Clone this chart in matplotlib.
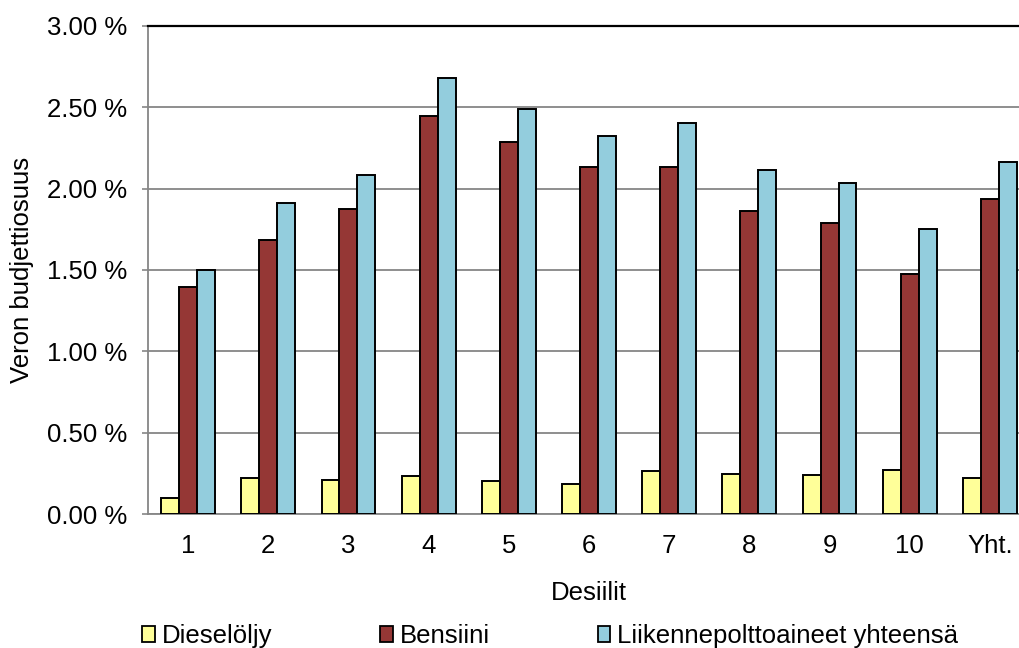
import matplotlib
matplotlib.use("Agg")
import matplotlib.pyplot as plt
from matplotlib.patches import Patch
import numpy as np

plt.rcParams['font.family'] = ['Liberation Sans', 'DejaVu Sans']

categories = ["1", "2", "3", "4", "5", "6", "7", "8", "9", "10", "Yht."]
diesel = [0.10, 0.22, 0.21, 0.235, 0.205, 0.185, 0.265, 0.245, 0.24, 0.27, 0.225]
bensiini = [1.395, 1.685, 1.875, 2.445, 2.285, 2.135, 2.135, 1.865, 1.79, 1.475, 1.935]
yhteensa = [1.50, 1.91, 2.085, 2.68, 2.49, 2.325, 2.405, 2.115, 2.035, 1.75, 2.165]
series_names = ["Dieselöljy", "Bensiini", "Liikennepolttoaineet yhteensä"]
colors = ["#FFFF99", "#953735", "#93CDDD"]
yticks = [0.0, 0.5, 1.0, 1.5, 2.0, 2.5, 3.0]

FS = 18.5

fig = plt.figure(figsize=(10.2, 6.48), dpi=100)
ax = fig.add_axes([148 / 1020, 1 - 514.3 / 648, 882 / 1020, (514.3 - 25.7) / 648])

x = np.arange(len(categories))
w = 0.224
for i, (vals, col) in enumerate(zip([diesel, bensiini, yhteensa], colors)):
    ax.bar(x + (i - 1) * w, vals, width=w, color=col, edgecolor="black",
           linewidth=1.4, zorder=3)

ax.set_xlim(-0.5, len(categories) - 0.5)
ax.set_ylim(0, 3.0)
ax.set_yticks(yticks)
ax.set_yticklabels([f"{v:.2f} %" for v in yticks], fontsize=FS)
ax.set_xticks(x)
ax.set_xticklabels(categories, fontsize=FS)
ax.tick_params(axis="x", length=0, pad=14)
ax.tick_params(axis="y", length=4, width=1.2, color="#868686", pad=11)

ax.grid(axis="y", color="#868686", linewidth=1.3, zorder=0)
ax.set_axisbelow(True)
for side in ["left", "bottom"]:
    ax.spines[side].set_color("#868686")
    ax.spines[side].set_linewidth(1.3)
ax.spines["right"].set_visible(False)
ax.spines["top"].set_color("black")
ax.spines["top"].set_linewidth(1.6)

ax.set_ylabel("Veron budjettiosuus", fontsize=FS, labelpad=9)
ax.set_xlabel("Desiilit", fontsize=FS, labelpad=17)

handles = [Patch(facecolor=c, edgecolor="black", linewidth=1.3) for c in colors]
fig.legend(handles, series_names, loc="center left", bbox_to_anchor=(142 / 1020, 1 - 636 / 648),
           ncol=3, frameon=False, fontsize=FS, handlelength=0.5, handleheight=0.55,
           handletextpad=0.26, columnspacing=4.2, borderpad=0, borderaxespad=0)

fig.savefig("out.png", dpi=100)
